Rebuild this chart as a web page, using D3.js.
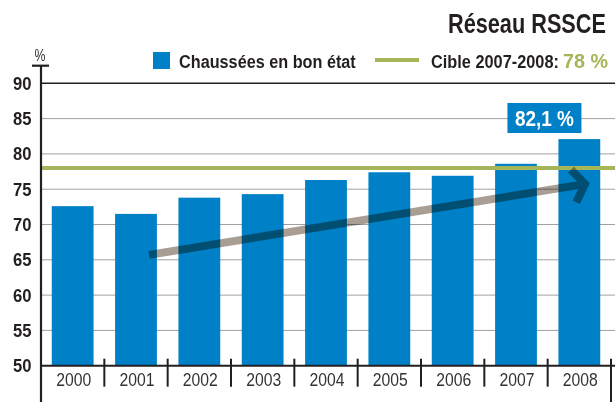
<!DOCTYPE html>
<html>
<head>
<meta charset="utf-8">
<script src="https://cdn.jsdelivr.net/npm/d3@7"></script>
<style>
  html, body { margin: 0; padding: 0; background: #fff; }
  svg { display: block; }
  .nar { font-family: "Liberation Sans", Arial, sans-serif; }
</style>
</head>
<body>
<svg id="chart" width="615" height="402"></svg>
<script>
// ---- Data ----
const years = ["2000", "2001", "2002", "2003", "2004", "2005", "2006", "2007", "2008"];
const goodCondition = [72.6, 71.5, 73.8, 74.3, 76.3, 77.4, 76.9, 78.6, 82.1];
const yTicks = [50, 55, 60, 65, 70, 75, 80, 85, 90];
const target = 78;
const title = "Réseau RSSCE";
const seriesLabel = "Chaussées en bon état";
const targetLabel = "Cible 2007-2008:";
const targetValueLabel = "78 %";
const highlightLabel = "82,1 %";
const unitLabel = "%";
// trend arrow in chart units: [band position (index units), value]
const arrowFrom = [1.706, 65.7];
const arrowTo = [8.636, 75.8];

// ---- Layout ----
const svg = d3.select("#chart");
const pLeft = 41, pRight = 611, pTop = 83.3, pBottom = 365.7;
const dark = "#231f20", blue = "#0080c6", green = "#a5b558", grid = "#a0a0a0";

// condensed text: draw at natural size, then squeeze horizontally to width w
function fitText(parent, txt, x, yy, w, size, weight, fill, anchor) {
  const t = parent.append("text").attr("class", "nar")
    .attr("font-size", size).attr("font-weight", weight).attr("fill", fill).text(txt);
  const nat = t.node().getComputedTextLength();
  const sx = w / nat;
  let x0 = x;
  if (anchor === "middle") x0 = x - w / 2;
  else if (anchor === "end") x0 = x - w;
  t.attr("transform", `translate(${x0},${yy}) scale(${sx},1)`);
  return t;
}

const x = d3.scaleBand().domain(years).range([pLeft, pRight]).paddingInner(0.34).paddingOuter(0.17);
const step = x.step();
const pos = d3.scaleLinear().domain([0, years.length]).range([pLeft, pRight]);
const y = d3.scaleLinear().domain([50, 90]).range([pBottom, pTop]);

// gridlines
svg.append("g").selectAll("line").data(yTicks.filter(t => t > 50 && t < 90)).join("line")
  .attr("x1", pLeft).attr("x2", 615)
  .attr("y1", d => y(d)).attr("y2", d => y(d))
  .attr("stroke", grid).attr("stroke-width", 1);
// top line (90)
svg.append("line").attr("x1", pLeft).attr("x2", 615).attr("y1", y(90)).attr("y2", y(90))
  .attr("stroke", dark).attr("stroke-width", 1.5);

// bars
svg.append("g").selectAll("rect").data(years).join("rect")
  .attr("x", d => x(d)).attr("width", x.bandwidth())
  .attr("y", (d, i) => y(goodCondition[i]))
  .attr("height", (d, i) => y(50) - y(goodCondition[i]))
  .attr("fill", blue);

// target line
svg.append("line").attr("x1", pLeft).attr("x2", 615).attr("y1", y(target)).attr("y2", y(target))
  .attr("stroke", green).attr("stroke-width", 4);

// trend arrow
const ax0 = pos(arrowFrom[0]), ay0 = y(arrowFrom[1]);
const ax1 = pos(arrowTo[0]), ay1 = y(arrowTo[1]);
const ang = Math.atan2(ay1 - ay0, ax1 - ax0);
const ag = svg.append("g").style("mix-blend-mode", "multiply");
ag.append("line")
  .attr("x1", ax0).attr("y1", ay0)
  .attr("x2", ax1 - 5 * Math.cos(ang)).attr("y2", ay1 - 5 * Math.sin(ang))
  .attr("stroke", "#a89e94").attr("stroke-width", 8);
const armLen = 22, spread = Math.PI * 0.27;
const hx1 = ax1 - armLen * Math.cos(ang - spread), hy1 = ay1 - armLen * Math.sin(ang - spread);
const hx2 = ax1 - armLen * Math.cos(ang + spread), hy2 = ay1 - armLen * Math.sin(ang + spread);
ag.append("path")
  .attr("d", `M${hx1},${hy1}L${ax1 - 3 * Math.cos(ang)},${ay1 - 3 * Math.sin(ang)}L${hx2},${hy2}`)
  .attr("fill", "none").attr("stroke", "#a89e94").attr("stroke-width", 8)
  .attr("stroke-linejoin", "miter");

// baseline
svg.append("line").attr("x1", pLeft).attr("x2", 615).attr("y1", y(50)).attr("y2", y(50))
  .attr("stroke", dark).attr("stroke-width", 2);

// separators between categories
svg.append("g").selectAll("line").data(years).join("line")
  .attr("x1", d => x(d) + x.bandwidth() + (step - x.bandwidth()) / 2)
  .attr("x2", d => x(d) + x.bandwidth() + (step - x.bandwidth()) / 2)
  .attr("y1", y(50) - 7)
  .attr("y2", (d, i) => i === years.length - 1 ? 402 : y(50) + 21)
  .attr("stroke", dark).attr("stroke-width", 2);

// y axis line + T cap
svg.append("line").attr("x1", pLeft).attr("x2", pLeft).attr("y1", 65.7).attr("y2", 402)
  .attr("stroke", dark).attr("stroke-width", 2.2);
svg.append("line").attr("x1", pLeft - 9).attr("x2", pLeft + 8).attr("y1", 65.7).attr("y2", 65.7)
  .attr("stroke", dark).attr("stroke-width", 2.2);
fitText(svg, unitLabel, pLeft - 1, 61, 11, 17, "normal", "#333", "middle");

// y tick labels
const gy = svg.append("g");
yTicks.forEach(d => fitText(gy, String(d), 31.5, y(d) + 6.5, 18.5, 18.5, "bold", dark, "end"));

// x tick labels
const gx = svg.append("g");
years.forEach(d => fitText(gx, d, x(d) + x.bandwidth() / 2 + 1, y(50) + 20, 35, 17.5, "normal", "#333", "middle"));

// title
fitText(svg, title, 606, 33, 158, 27.5, "bold", dark, "end");

// legend
svg.append("rect").attr("x", 153).attr("y", 52).attr("width", 17).attr("height", 17).attr("fill", blue);
fitText(svg, seriesLabel, 179, 68, 177, 19, "bold", dark, "start");
svg.append("line").attr("x1", 375).attr("x2", 419).attr("y1", 60).attr("y2", 60)
  .attr("stroke", green).attr("stroke-width", 4);
fitText(svg, targetLabel, 431, 68, 128, 19, "bold", dark, "start");
fitText(svg, targetValueLabel, 608, 68, 45, 19.5, "bold", green, "end");

// highlight label for 2008
const last = years[years.length - 1];
const lx = x(last) - 14 - 37;
svg.append("rect").attr("x", lx).attr("y", 103).attr("width", 74).attr("height", 30).attr("fill", blue);
fitText(svg, highlightLabel, lx + 37, 126, 59, 21.5, "bold", "#fff", "middle");
</script>
</body>
</html>
